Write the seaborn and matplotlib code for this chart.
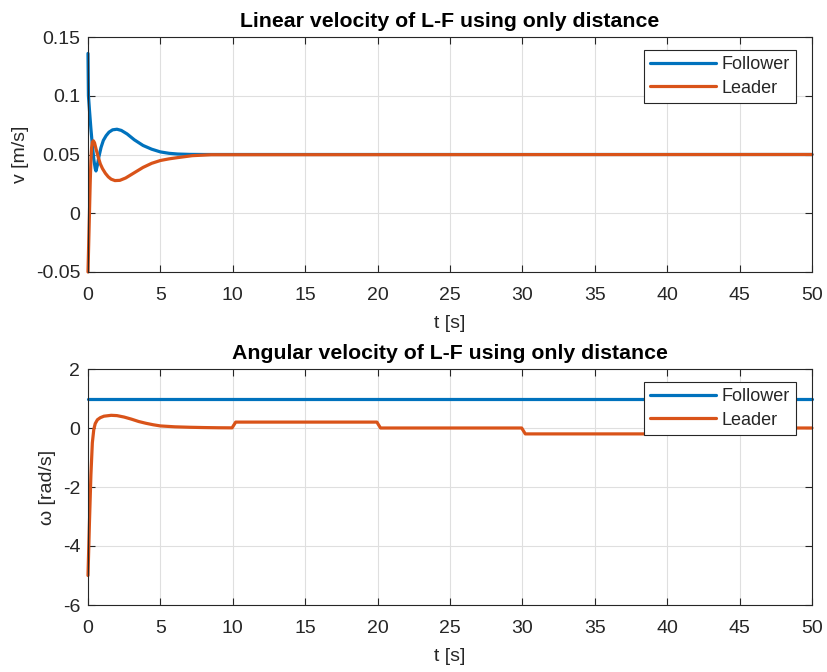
import numpy as np
import pandas as pd
import matplotlib
matplotlib.use("Agg")
import matplotlib.pyplot as plt
import seaborn as sns

# Linear velocity samples (time in s, velocity in m/s)
t_v_follower = [0, 0.03, 0.1, 0.2, 0.3, 0.4, 0.5, 0.55, 0.65, 0.75, 0.9, 1.06,
                1.25, 1.45, 1.7, 2.0, 2.3, 2.7, 3.2, 3.8, 4.4, 5.0, 5.6, 6.2,
                7.0, 8.0, 9.0, 50]
v_follower = [0.136, 0.1, 0.088, 0.072, 0.058, 0.046, 0.038, 0.036, 0.041,
              0.048, 0.056, 0.062, 0.066, 0.069, 0.071, 0.0715, 0.0705, 0.0675,
              0.0625, 0.0577, 0.0545, 0.0522, 0.0510, 0.0504, 0.0501, 0.0500,
              0.0500, 0.0500]

t_v_leader = [0, 0.05, 0.1, 0.15, 0.2, 0.25, 0.3, 0.37, 0.45, 0.55, 0.7, 0.85,
              1.0, 1.2, 1.4, 1.6, 1.86, 2.2, 2.6, 3.0, 3.4, 3.8, 4.4, 5.0, 5.6,
              6.1, 7.2, 8.5, 50]
v_leader = [-0.05, -0.025, 0.0, 0.025, 0.045, 0.056, 0.0605, 0.0617, 0.060,
            0.055, 0.048, 0.042, 0.038, 0.034, 0.031, 0.029, 0.0278, 0.028,
            0.030, 0.033, 0.036, 0.039, 0.0425, 0.0449, 0.0463, 0.0472, 0.049,
            0.0498, 0.050]

# Angular velocity samples (time in s, omega in rad/s)
t_w_follower = [0, 50]
w_follower = [1.0, 1.0]

t_w_leader = [0, 0.1, 0.2, 0.3, 0.4, 0.5, 0.65, 0.85, 1.1, 1.6, 2.0, 2.5, 3.0,
              3.5, 4.0, 4.5, 5.0, 6.0, 7.0, 8.0, 9.0, 9.95, 10.2, 19.95, 20.2,
              29.95, 30.2, 39.95, 40.2, 50]
w_leader = [-5.0, -3.2, -1.6, -0.5, -0.05, 0.15, 0.28, 0.35, 0.40, 0.43, 0.42,
            0.37, 0.30, 0.22, 0.16, 0.11, 0.07, 0.04, 0.025, 0.015, 0.008,
            0.005, 0.2, 0.2, 0.0, 0.0, -0.2, -0.2, 0.0, 0.0]

series_names = ["Follower", "Leader"]
palette = {"Follower": "#0072BD", "Leader": "#D95319"}
x_ticks = list(range(0, 55, 5))
v_ticks = [-0.05, 0, 0.05, 0.1, 0.15]
v_tick_labels = ["-0.05", "0", "0.05", "0.1", "0.15"]
w_ticks = [-6, -4, -2, 0, 2]


def frame(t_f, y_f, t_l, y_l):
    return pd.concat([
        pd.DataFrame({"t": t_f, "y": y_f, "who": series_names[0]}),
        pd.DataFrame({"t": t_l, "y": y_l, "who": series_names[1]}),
    ], ignore_index=True)


df_v = frame(t_v_follower, v_follower, t_v_leader, v_leader)
df_w = frame(t_w_follower, w_follower, t_w_leader, w_leader)

sns.set_theme(style="whitegrid")
plt.rcParams["font.family"] = ["Liberation Sans", "DejaVu Sans"]
plt.rcParams["axes.unicode_minus"] = False
plt.rcParams["axes.edgecolor"] = "#262626"
plt.rcParams["grid.color"] = "#dfdfdf"

fig = plt.figure(figsize=(8.28, 6.72), dpi=100)
ax1 = fig.add_axes([88 / 828, 1 - 272 / 672, 724 / 828, 235 / 672])
ax2 = fig.add_axes([88 / 828, 1 - 605 / 672, 724 / 828, 236 / 672])

FS = 14


def style(ax, title, ylabel):
    ax.set_xlim(0, 50)
    ax.set_xticks(x_ticks)
    ax.set_title(title, fontsize=15.3, fontweight="bold", pad=7, color="black")
    ax.set_xlabel("t [s]", fontsize=FS, color="#262626", labelpad=8)
    ax.set_ylabel(ylabel, fontsize=FS, color="#262626", labelpad=5)
    ax.tick_params(axis="both", labelsize=FS, colors="#262626", length=5,
                   direction="in", top=True, right=True, bottom=True, left=True,
                   width=0.8)
    ax.tick_params(axis="x", pad=11)
    ax.tick_params(axis="y", pad=5.5)
    ax.grid(True, color="#dfdfdf", linewidth=0.8)
    for s in ax.spines.values():
        s.set_color("#262626")
        s.set_linewidth(0.8)
    for ln in ax.get_lines():
        ln.set_clip_on(False)
    leg = ax.legend(loc="upper right", bbox_to_anchor=(708 / 724, 0.945),
                    borderaxespad=0, fontsize=13, frameon=True, fancybox=False,
                    handlelength=3.65, borderpad=0.35, labelspacing=0.35,
                    handletextpad=0.3)
    leg.get_frame().set_edgecolor("#262626")
    leg.get_frame().set_linewidth(0.8)
    leg.get_frame().set_alpha(1)


sns.lineplot(data=df_v, x="t", y="y", hue="who", palette=palette, ax=ax1,
             linewidth=2.3, sort=False, estimator=None)
ax1.set_ylim(-0.05, 0.15)
ax1.set_yticks(v_ticks)
ax1.set_yticklabels(v_tick_labels)
style(ax1, "Linear velocity of L-F using only distance", "v [m/s]")

sns.lineplot(data=df_w, x="t", y="y", hue="who", palette=palette, ax=ax2,
             linewidth=2.3, sort=False, estimator=None)
ax2.set_ylim(-6, 2)
ax2.set_yticks(w_ticks)
style(ax2, "Angular velocity of L-F using only distance", "ω [rad/s]")

fig.savefig("out.png", dpi=100)
